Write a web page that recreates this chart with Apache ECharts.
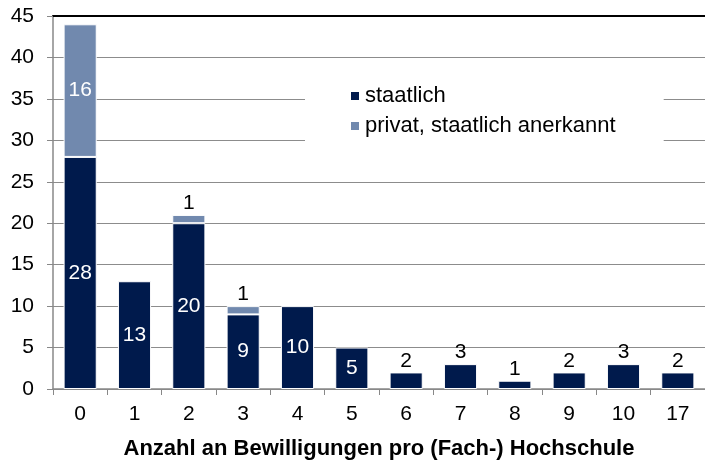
<!DOCTYPE html>
<html>
<head>
<meta charset="utf-8">
<script src="https://cdn.jsdelivr.net/npm/echarts@6/dist/echarts.min.js"></script>
<style>
  html, body { margin: 0; padding: 0; background: #fff; }
  #chart { width: 705px; height: 467px; }
</style>
</head>
<body>
<div id="chart"></div>
<script>
// Anzahl an Bewilligungen pro Hochschule
const categories = ["0", "1", "2", "3", "4", "5", "6", "7", "8", "9", "10", "17"];
const staatlich = [28, 13, 20, 9, 10, 5, 2, 3, 1, 2, 3, 2];
const privat = [16, 0, 1, 1, 0, 0, 0, 0, 0, 0, 0, 0];
const yTicks = [0, 5, 10, 15, 20, 25, 30, 35, 40, 45];

const navy = "#001A4C";
const grey = "#7189AE";
const font = "Liberation Sans, Arial, sans-serif";

// grosse Werte weiss im Balken, kleine schwarz darueber
function labelFor(v) {
  if (v >= 5) {
    return { show: true, position: "inside", color: "#fff", fontSize: 21, fontFamily: font };
  }
  return { show: true, position: "top", distance: 1, color: "#000", fontSize: 21, fontFamily: font };
}

const chart = echarts.init(document.getElementById("chart"));

const option = {
  animation: false,
  grid: { left: 53, top: 16, width: 660, bottom: 78 },
  legend: {
    orient: "vertical",
    left: 305,
    top: 79,
    padding: [6, 48, 6, 44],
    backgroundColor: "#fff",
    itemWidth: 10,
    itemHeight: 10,
    itemGap: 8,
    icon: "rect",
    textStyle: { fontSize: 22, fontFamily: font, color: "#000" },
    data: ["staatlich", "privat, staatlich anerkannt"]
  },
  xAxis: [
    {
      type: "category",
      data: categories,
      axisLine: { lineStyle: { color: "#888", width: 1.5 } },
      axisTick: { show: true, length: 6, lineStyle: { color: "#888" } },
      axisLabel: { fontSize: 21, color: "#000", fontFamily: font, margin: 15 },
      name: "Anzahl an Bewilligungen pro (Fach-) Hochschule",
      nameLocation: "middle",
      nameGap: 49,
      nameTextStyle: { fontSize: 22, fontWeight: "bold", color: "#000", fontFamily: font }
    },
    {
      type: "category",
      position: "top",
      data: categories,
      axisLine: { lineStyle: { color: "#000", width: 2 } },
      axisTick: { show: false },
      axisLabel: { show: false }
    }
  ],
  yAxis: {
    type: "value",
    min: yTicks[0],
    max: yTicks[yTicks.length - 1],
    interval: 5,
    axisLine: { show: true, lineStyle: { color: "#888", width: 1.5 } },
    axisTick: { show: true, length: 6, lineStyle: { color: "#888" } },
    axisLabel: { fontSize: 21, color: "#000", fontFamily: font, margin: 19 },
    splitLine: { lineStyle: { color: "#8c8c8c", width: 1.2 } }
  },
  series: [
    {
      name: "staatlich",
      type: "bar",
      stack: "total",
      barWidth: "61%",
      itemStyle: { color: navy, borderColor: "#fff", borderWidth: 1 },
      data: staatlich.map(v => ({ value: v, label: labelFor(v) }))
    },
    {
      name: "privat, staatlich anerkannt",
      type: "bar",
      stack: "total",
      barWidth: "61%",
      itemStyle: { color: grey, borderColor: "#fff", borderWidth: 1 },
      data: privat.map(v => (v > 0 ? { value: v, label: labelFor(v) } : { value: null }))
    }
  ]
};

chart.setOption(option);
</script>
</body>
</html>
